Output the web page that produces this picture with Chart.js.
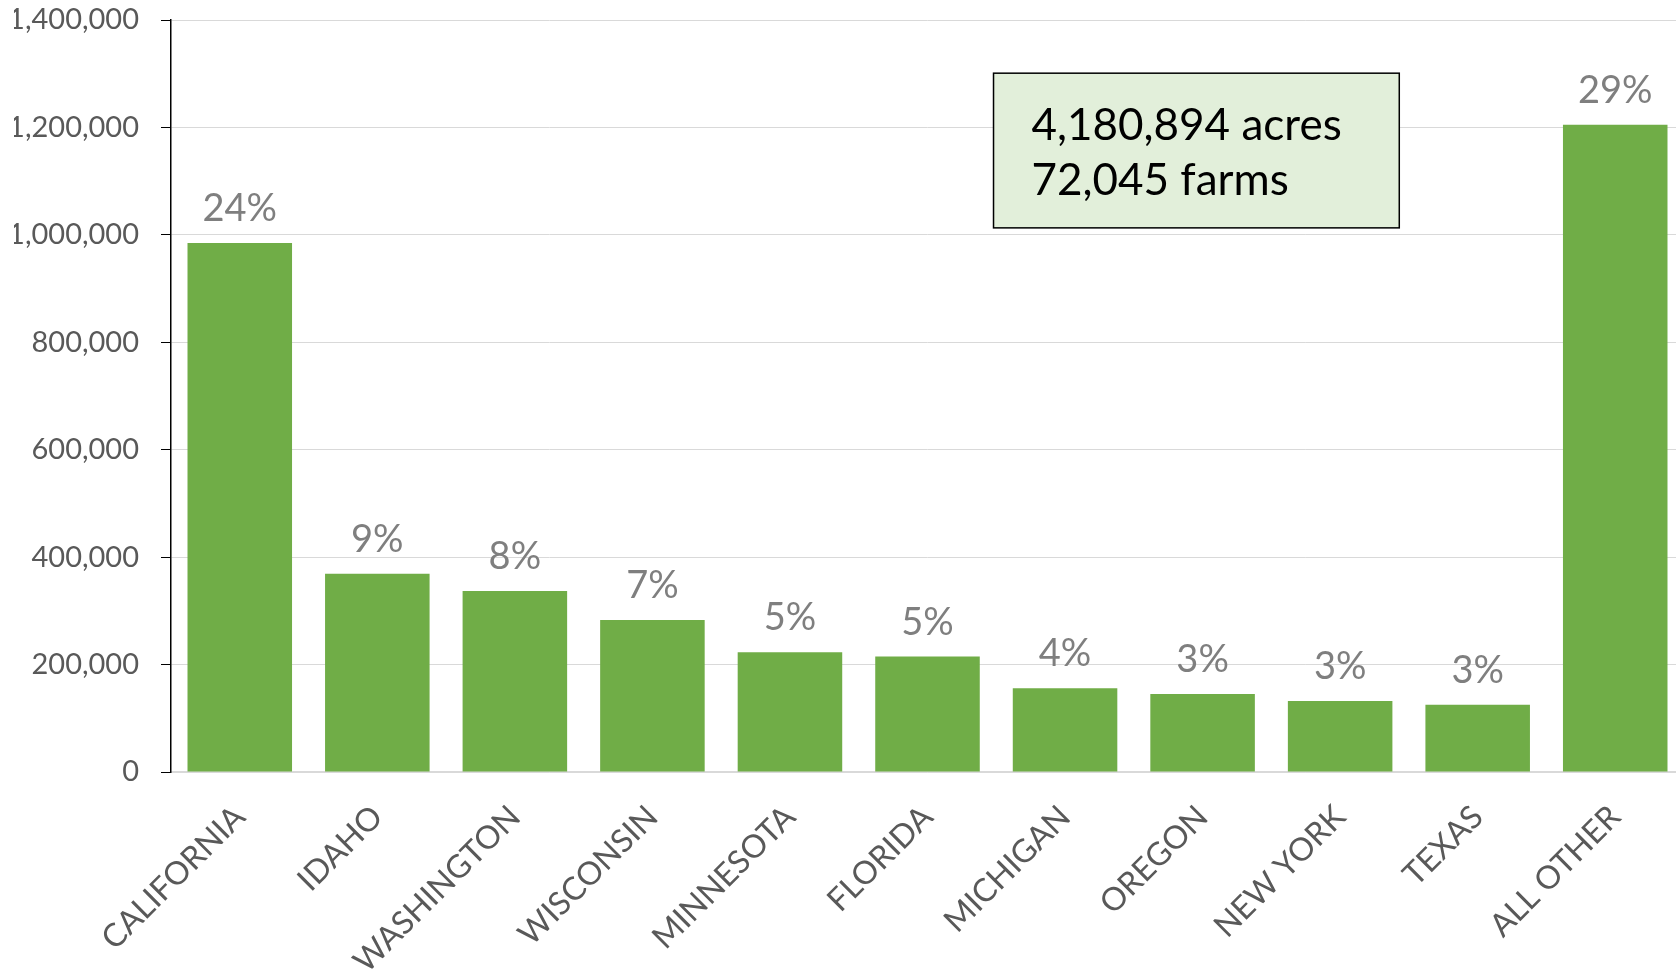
<!DOCTYPE html>
<html>
<head>
<meta charset="utf-8">
<title>Acres by state</title>
<script src="https://cdn.jsdelivr.net/npm/chart.js@4.4.1/dist/chart.umd.min.js"></script>
<style>
  html, body { margin: 0; padding: 0; background: #fff; overflow: hidden; }
  #wrap { position: relative; width: 1684px; height: 972px; }
</style>
</head>
<body>
<div id="wrap"><canvas id="grafico"></canvas></div>
<script>
// Chart data
const states = ["CALIFORNIA", "IDAHO", "WASHINGTON", "WISCONSIN", "MINNESOTA", "FLORIDA", "MICHIGAN", "OREGON", "NEW YORK", "TEXAS", "ALL OTHER"];
const acres = [985000, 369000, 337000, 283000, 223000, 215000, 156000, 145000, 132000, 125000, 1205000];
const shares = ["24%", "9%", "8%", "7%", "5%", "5%", "4%", "3%", "3%", "3%", "29%"];
const yMax = 1400000;
const yStep = 200000;
const totals = ["4,180,894 acres", "72,045 farms"];

const FONT = "Lato, 'Liberation Sans', sans-serif";

// Percentage labels above each bar
const shareLabels = {
  id: "shareLabels",
  afterDatasetsDraw(chart) {
    const ctx = chart.ctx;
    const meta = chart.getDatasetMeta(0);
    ctx.save();
    ctx.font = "38px " + FONT;
    ctx.fillStyle = "#7f7f7f";
    ctx.textAlign = "center";
    ctx.textBaseline = "alphabetic";
    meta.data.forEach((bar, i) => {
      ctx.fillText(shares[i], bar.x, bar.y - 22);
    });
    ctx.restore();
  },
};

// Text box with the totals, placed in scale units
const totalBox = {
  id: "totalBox",
  afterDraw(chart) {
    const { x, y } = chart.scales;
    const left = x.getPixelForValue(5.48);
    const right = x.getPixelForValue(8.43);
    const top = y.getPixelForValue(1301000);
    const bottom = y.getPixelForValue(1013000);
    const ctx = chart.ctx;
    ctx.save();
    ctx.fillStyle = "#e2efda";
    ctx.fillRect(left, top, right - left, bottom - top);
    ctx.strokeStyle = "#000";
    ctx.lineWidth = 1.5;
    ctx.strokeRect(left, top, right - left, bottom - top);
    ctx.fillStyle = "#000";
    ctx.font = "44px " + FONT;
    ctx.textAlign = "left";
    ctx.textBaseline = "alphabetic";
    totals.forEach((line, i) => {
      ctx.fillText(line, left + 38, top + 67 + i * 55);
    });
    ctx.restore();
  },
};

// Build the chart
function gerarGrafico() {
  const ctx = document.getElementById("grafico").getContext("2d");
  new Chart(ctx, {
    type: "bar",
    data: {
      labels: states,
      datasets: [
        {
          data: acres,
          backgroundColor: "#70ad47",
          borderWidth: 0,
          categoryPercentage: 1,
          barPercentage: 0.76,
        },
      ],
    },
    options: {
      responsive: true,
      maintainAspectRatio: false,
      animation: false,
      layout: {
        padding: { top: 20, left: 14, right: 0, bottom: 0 },
      },
      plugins: {
        legend: { display: false },
        tooltip: { enabled: false },
      },
      scales: {
        x: {
          grid: { display: false },
          border: { display: true, color: "#d9d9d9", width: 1.5 },
          ticks: {
            color: "#595959",
            font: { size: 32, family: FONT },
            minRotation: 45,
            maxRotation: 45,
            autoSkip: false,
            padding: 18,
          },
          afterFit: (scale) => { scale.height = 200; },
        },
        y: {
          min: 0,
          max: yMax,
          ticks: {
            stepSize: yStep,
            color: "#595959",
            font: { size: 29, family: FONT },
            padding: 22,
            callback: (v) => v.toLocaleString("en-US"),
          },
          grid: { color: "#d9d9d9", tickColor: "#000", tickLength: 10, lineWidth: 1 },
          border: { color: "#000", width: 1.5 },
          afterFit: (scale) => {
            scale.width = 157;
            scale.paddingTop = 0;
          },
        },
      },
    },
    plugins: [shareLabels, totalBox],
  });
}

document.addEventListener("DOMContentLoaded", gerarGrafico);
</script>
</body>
</html>
